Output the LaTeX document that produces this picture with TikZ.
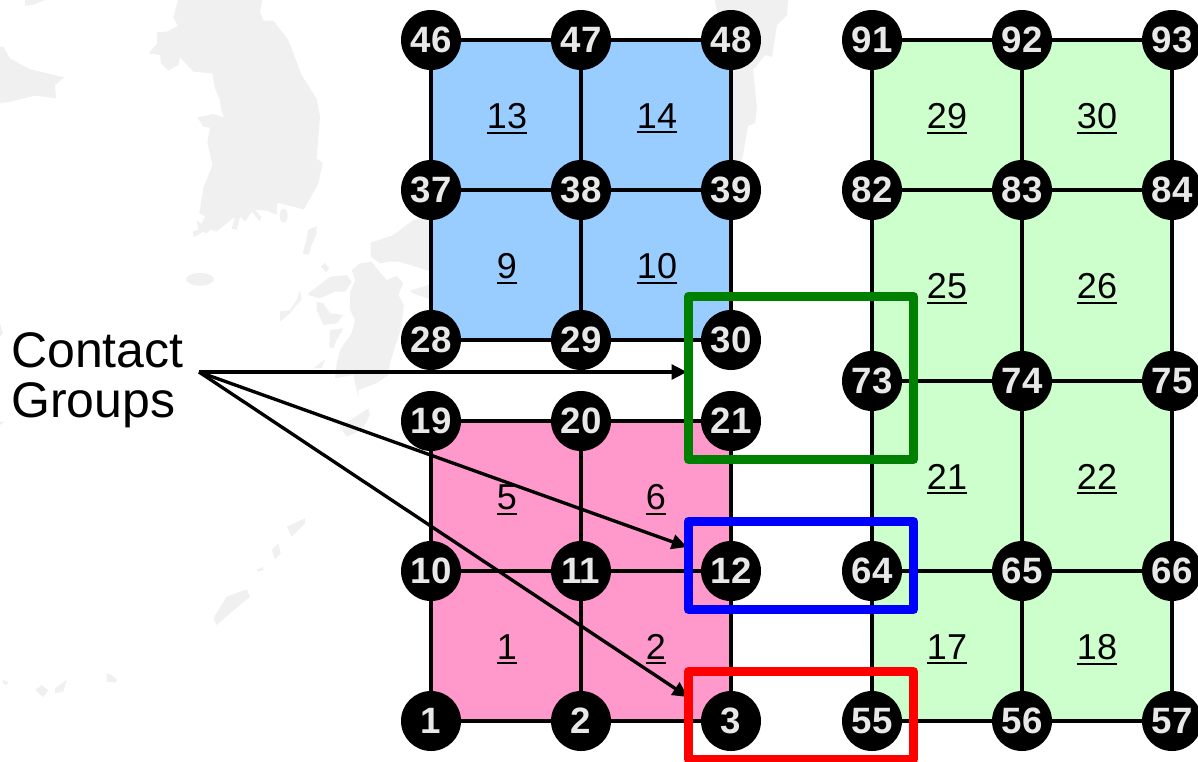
\documentclass[tikz,border=0pt]{standalone}
\usepackage{fontspec}
\setmainfont{Liberation Sans}
\usetikzlibrary{arrows.meta}
\pgfdeclarelayer{maplayer}
\pgfdeclarelayer{background}
\pgfsetlayers{maplayer,background,main}
\definecolor{mapgray}{HTML}{F0F0F0}
\definecolor{cellblue}{HTML}{99CCFF}
\definecolor{cellgreen}{HTML}{CCFFCC}
\definecolor{cellpink}{HTML}{FF99CC}
\definecolor{numtext}{HTML}{E8E8E8}
\definecolor{framegreen}{HTML}{008000}
\newcommand{\ulnum}[1]{\vtop{\hbox{#1}\kern 2.4pt\hrule height 1.6pt}}
\tikzset{
  x=0.75pt,y=-0.75pt,
  gridnode/.style={circle,fill=black,minimum size=45pt,inner sep=0pt,text=numtext,font=\fontsize{27.5}{27.5}\selectfont\bfseries},
  cellnum/.style={anchor=base,inner sep=0pt,font=\fontsize{27}{27}\selectfont},
  gridline/.style={line width=2.4pt},
  callout/.style={line width=2.5pt,-{Triangle[length=11.5pt,width=11pt]}},
  groupframe/.style={draw=#1,line width=7pt,line join=round,fill=none,inner sep=0pt},
  land/.style={fill=mapgray,draw=none}
}
\begin{document}
\begin{tikzpicture}
\useasboundingbox (0,0) rectangle (1198,761);
\clip (0,0) rectangle (1198,761);
% map backdrop
\begin{pgfonlayer}{maplayer}
\begin{scope}[scale=1/3]
\fill[land] (535,0)--(520,50)--(533,78)--(500,95)--(470,97)--(472,130)--(445,160)--(480,165)--(483,190)--(505,212)--(535,195)--(540,172)--(580,215)--(637,220)--(645,265)--(660,300)--(662,325)--(672,352)--(640,342)--(592,352)--(610,380)--(630,383)--(622,425)--(637,495)--(610,565)--(598,640)--(615,650)--(605,672)--(590,660)--(595,690)--(578,695)--(582,712)--(610,695)--(620,700)--(632,688)--(650,695)--(705,650)--(695,685)--(710,690)--(720,650)--(735,665)--(755,635)--(780,665)--(783,650)--(765,630)--(800,632)--(830,645)--(832,608)--(912,628)--(955,550)--(968,490)--(950,475)--(960,350)--(950,297)--(905,225)--(865,120)--(820,62)--(790,62)--(780,35)--(787,0)--cycle;
\fill[land] (0,140)--(10,140)--(30,175)--(90,208)--(193,232)--(165,255)--(168,295)--(105,287)--(30,305)--(0,310)--cycle;
\fill[land] (75,0)--(135,0)--(100,14)--(75,17)--cycle;
\fill[land] (600,838) ellipse (42 and 19);
\fill[land] (851,647) ellipse (12 and 21);
\fill[land] (950,678)--(925,690)--(915,735)--(908,760)--(925,765)--(935,735)--(950,700)--cycle;
\fill[land] (975,788)--(988,805)--(978,818)--(963,800)--cycle;
\fill[land] (0,970)--(10,1000)--(0,1010)--cycle;
\end{scope}
\begin{scope}[shift={(0,380)},scale=1/3]
\fill[land] (860,440)--(915,415)--(915,430)--(875,470)--cycle;
\fill[land] (815,510)--(835,490)--(842,520)--(825,538)--cycle;
\fill[land] (770,570)--(790,560)--(790,570)--(775,575)--cycle;
\fill[land] (640,715)--(680,650)--(740,628)--(750,650)--(690,700)--(650,735)--cycle;
\fill[land] (1020,140)--(1105,85)--(1110,105)--(1085,150)--(1040,170)--cycle;
\fill[land] (10,900)--(25,905)--(20,915)--(8,910)--cycle;
\fill[land] (105,930)--(125,915)--(145,930)--(130,952)--cycle;
\fill[land] (165,925)--(200,900)--(190,935)--(165,940)--cycle;
\fill[land] (320,880)--(335,885)--(352,900)--(345,908)--(320,905)--cycle;
\fill[land] (0,125)--(15,125)--(0,135)--cycle;
\end{scope}
\begin{scope}[shift={(280,200)},scale=1/3]
\fill[land] (455,50)--(400,60)--(340,105)--(272,128)--(272,170)--(300,190)--(330,185)--(355,185)--(390,195)--(455,215)--cycle;
\fill[land] (215,210)--(240,190)--(275,185)--(290,205)--(320,240)--(350,228)--(370,250)--(355,285)--(372,315)--(362,390)--(345,440)--(330,490)--(325,525)--(290,550)--(235,570)--(235,595)--(220,525)--(165,535)--(170,490)--(180,450)--(215,400)--(225,360)--(210,330)--(210,280)--(225,240)--cycle;
\fill[land] (60,270)--(65,300)--(45,320)--(30,340)--(0,365)--(0,335)--(30,330)--(50,300)--cycle;
\fill[land] (85,280)--(150,230)--(200,225)--(215,245)--(195,275)--(165,275)--(120,295)--(85,285)--cycle;
\fill[land] (110,305)--(130,310)--(150,340)--(190,345)--(170,370)--(130,375)--(110,330)--cycle;
\fill[land] (150,390)--(190,385)--(170,420)--(160,445)--(148,440)--cycle;
\fill[land] (100,505)--(135,478)--(125,505)--cycle;
\fill[land] (390,272)--(455,252)--(455,300)--(400,280)--cycle;
\end{scope}
\fill[land] (715,0)--(788,0)--(787,15)--(777,25)--(772,57)--(765,55)--(753,70)--(757,107)--(755,123)--(748,126)--(743,155)--(740,165)--(731,165)--(720,30)--cycle;
\end{pgfonlayer}
% grid nodes
\foreach \n/\x/\y in {46/431/40,47/581/40,48/731/40,37/431/190,38/581/190,39/731/190,28/431/340,29/581/340,30/731/340,
  19/431/421,20/581/421,21/731/421,10/431/571,11/581/571,12/731/571,1/431/721,2/581/721,3/731/721,
  91/872/40,92/1022/40,93/1172/40,82/872/190,83/1022/190,84/1172/190,73/872/381,74/1022/381,75/1172/381,
  64/872/571,65/1022/571,66/1172/571,55/872/721,56/1022/721,57/1172/721}
  \node[gridnode] (n\n) at (\x,\y) {\n};
% cell fills
\begin{pgfonlayer}{background}
\fill[cellblue] (n46.center) rectangle (n30.center);
\fill[cellpink] (n19.center) rectangle (n3.center);
\fill[cellgreen] (n91.center) rectangle (n57.center);
\end{pgfonlayer}
% grid lines
\foreach \a/\b in {46/47,47/48,37/38,38/39,28/29,29/30,46/37,37/28,47/38,38/29,48/39,39/30,
  19/20,20/21,10/11,11/12,1/2,2/3,19/10,10/1,20/11,11/2,21/12,12/3,
  91/92,92/93,82/83,83/84,73/74,74/75,64/65,65/66,55/56,56/57,
  91/82,82/73,73/64,64/55,92/83,83/74,74/65,65/56,93/84,84/75,75/66,66/57}
  \draw[gridline] (n\a) -- (n\b);
% cell numbers
\foreach \n/\nm/\x/\y in {13/a13/507/128,14/a14/657/128,9/a9/507/278,10/a10/657/278,5/a5/507/509,6/a6/656/509,1/a1/507/659,2/a2/656/659,
  29/b29/947/128,30/b30/1097/128,25/b25/947/298,26/b26/1097/298,21/b21/947/489,22/b22/1097/489,17/b17/947/659,18/b18/1097/659}
  \node[cellnum] (\nm) at (\x,\y) {\ulnum{\n}};
% label and callouts
\node[anchor=north west,inner sep=0pt,align=left,font=\fontsize{37.5}{38}\selectfont] (lbl) at (11,332) {Contact\\Groups};
\coordinate (src) at (199,372);
\coordinate (tipG) at (687,372);
\coordinate (tipB) at (687,547);
\coordinate (tipR) at (688,697);
\draw[callout] (src) -- (tipG);
\draw[callout] (src) -- (tipB);
\draw[callout] (src) -- (tipR);
% frames
\node[groupframe=framegreen,minimum width=168.75pt,minimum height=122.25pt] (fG) at (801,378) {};
\node[groupframe=blue,minimum width=168.75pt,minimum height=66pt] (fB) at (801,565.5) {};
\node[groupframe=red,minimum width=168.75pt,minimum height=66pt] (fR) at (801,715.5) {};
\end{tikzpicture}
\end{document}
